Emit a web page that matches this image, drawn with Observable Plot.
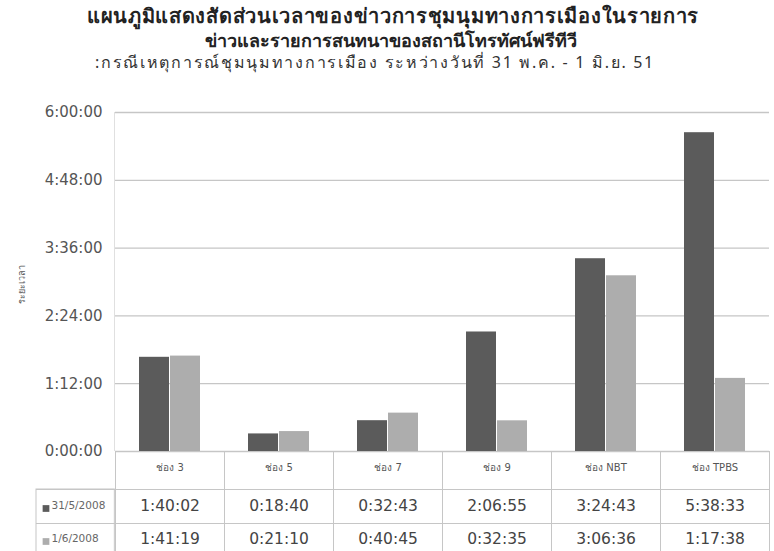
<!DOCTYPE html>
<html><head><meta charset="utf-8">
<script src="https://cdn.jsdelivr.net/npm/d3@7"></script>
<script src="https://cdn.jsdelivr.net/npm/@observablehq/plot@0.6"></script>
<style>
body{margin:0;background:#fff;width:774px;height:551px;overflow:hidden;font-family:"Noto Sans","DejaVu Sans",sans-serif;color:#222}
#head{position:relative;height:78px}
.t{position:absolute;left:0;width:774px;text-align:center;white-space:nowrap;line-height:1}
</style></head><body>
<div id="head">
<div class="t" style="top:6px;left:6px;font-weight:bold;font-size:20px;letter-spacing:0.7px">แผนภูมิแสดงสัดส่วนเวลาของข่าวการชุมนุมทางการเมืองในรายการ</div>
<div class="t" style="top:31px;left:4px;font-weight:bold;font-size:18px">ข่าวและรายการสนทนาของสถานีโทรทัศน์ฟรีทีวี</div>
<div class="t" style="top:54px;left:-12px;font-size:16px;letter-spacing:1.7px;color:#333">:กรณีเหตุการณ์ชุมนุมทางการเมือง ระหว่างวันที่ 31 พ.ค. - 1 มิ.ย. 51</div>
</div>
<div id="chart"></div>
<script>
const channels = ["ช่อง 3", "ช่อง 5", "ช่อง 7", "ช่อง 9", "ช่อง NBT", "ช่อง TPBS"];
const dates = ["31/5/2008", "1/6/2008"];
const times_31_5 = ["1:40:02", "0:18:40", "0:32:43", "2:06:55", "3:24:43", "5:38:33"];
const times_1_6 = ["1:41:19", "0:21:10", "0:40:45", "0:32:35", "3:06:36", "1:17:38"];
const yTickLabels = ["0:00:00", "1:12:00", "2:24:00", "3:36:00", "4:48:00", "6:00:00"];
const yAxisTitle = "ระยะเวลา";

const toSec = s => { const [h, m, x] = s.split(":").map(Number); return h * 3600 + m * 60 + x; };
const fmt = v => { const h = Math.floor(v / 3600), m = Math.floor((v % 3600) / 60), s = Math.round(v % 60);
  return `${h}:${String(m).padStart(2, "0")}:${String(s).padStart(2, "0")}`; };
const yTicks = yTickLabels.map(toSec);
const series = [times_31_5, times_1_6];
const rows = [];
dates.forEach((d, i) => channels.forEach((c, j) => rows.push({channel: c, date: d, label: series[i][j], value: toSec(series[i][j])})));

const colors = ["#5b5b5b", "#adadad"];
const lineC = "#c6c6c6";
const H = 473, mT = 34, mB = 100, mL = 113, mR = 3;
const innerH = H - mT - mB;
const bw = (774 - mL - mR) / channels.length;
const rowDy = [59, 92];

const chart = Plot.plot({
  width: 774, height: H, marginTop: mT, marginBottom: mB, marginLeft: mL, marginRight: mR,
  style: {fontFamily: "DejaVu Sans, sans-serif", fontSize: "15px", color: "#555", background: "transparent"},
  fx: {domain: channels, padding: 0, axis: null},
  x: {domain: dates, paddingInner: 0.03, paddingOuter: 0.77, axis: null},
  y: {domain: [0, yTicks[yTicks.length - 1]], ticks: yTicks, tickFormat: fmt, tickSize: 0, tickPadding: 13, label: null},
  color: {domain: dates, range: colors},
  marks: [
    Plot.ruleY(yTicks, {stroke: lineC, strokeWidth: 1.3}),
    Plot.barY(rows, {fx: "channel", x: "date", y: "value", fill: "date"}),
    // table cells
    Plot.frame({stroke: lineC, insetTop: innerH, insetBottom: -102}),
    Plot.ruleY([0], {stroke: lineC, dy: 38, insetLeft: -79}),
    Plot.ruleY([0], {stroke: lineC, dy: 72, insetLeft: -79}),
    // left axis line and row label cell
    Plot.rect([{channel: channels[0]}], {fx: "channel", fill: lineC, insetLeft: -0.6, insetRight: bw - 0.6, insetBottom: 0}),
    Plot.rect([{channel: channels[0]}], {fx: "channel", fill: "none", stroke: lineC, insetLeft: -79, insetRight: bw, insetTop: innerH + 38, insetBottom: -102}),
    // header texts
    Plot.text(channels, {fx: d => d, text: d => d, frameAnchor: "bottom", dy: 19, fontSize: 10, fill: "#555"}),
    ...dates.map((d, i) => Plot.text(rows.filter(r => r.date === d), {fx: "channel", text: "label", frameAnchor: "bottom", dy: rowDy[i], fontSize: 15.5, fill: "#444"})),
    ...dates.map((d, i) => Plot.text([{channel: channels[0], date: d}], {fx: "channel", text: "date", frameAnchor: "bottom-left", textAnchor: "start", dx: -64, dy: rowDy[i] - 2, fontSize: 10.5, fill: "#666"})),
    ...dates.map((d, i) => Plot.dot([{channel: channels[0], date: d}], {fx: "channel", fill: "date", symbol: "square", r: 3.8, frameAnchor: "bottom-left", dx: -69.5, dy: rowDy[i] - 2})),
    Plot.text([{channel: channels[0], t: yAxisTitle}], {fx: "channel", text: "t", frameAnchor: "left", dx: -93, dy: 22, rotate: -90, fontSize: 9, fill: "#555"})
  ]
});
document.getElementById("chart").append(chart);
</script>
</body></html>
